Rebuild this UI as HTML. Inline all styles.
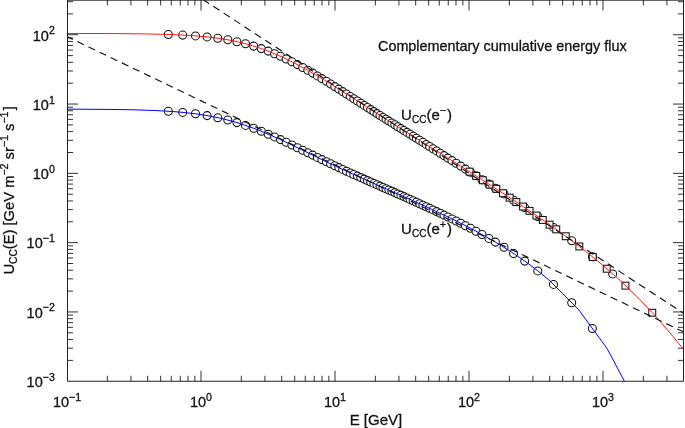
<!DOCTYPE html>
<html><head><meta charset="utf-8"><title>Complementary cumulative energy flux</title>
<style>html,body{margin:0;padding:0;background:#fff;overflow:hidden}body{width:685px;height:428px;position:relative}</style></head>
<body>
<svg width="685" height="428" viewBox="0 0 685 428" style="display:block;position:absolute;left:0;top:0">
<rect width="685" height="428" fill="#fff"/>
<defs><clipPath id="ax"><rect x="67.0" y="0" width="616.5" height="381.2"/></clipPath></defs>
<path d="M107.34 381.25v-5.5M107.34 0v5.5M130.93 381.25v-5.5M130.93 0v5.5M147.68 381.25v-5.5M147.68 0v5.5M160.66 381.25v-5.5M160.66 0v5.5M171.27 381.25v-5.5M171.27 0v5.5M180.24 381.25v-5.5M180.24 0v5.5M188.01 381.25v-5.5M188.01 0v5.5M194.87 381.25v-5.5M194.87 0v5.5M201.00 381.25v-10.5M201.00 0v10.5M241.34 381.25v-5.5M241.34 0v5.5M264.93 381.25v-5.5M264.93 0v5.5M281.68 381.25v-5.5M281.68 0v5.5M294.66 381.25v-5.5M294.66 0v5.5M305.27 381.25v-5.5M305.27 0v5.5M314.24 381.25v-5.5M314.24 0v5.5M322.01 381.25v-5.5M322.01 0v5.5M328.87 381.25v-5.5M328.87 0v5.5M335.00 381.25v-10.5M335.00 0v10.5M375.34 381.25v-5.5M375.34 0v5.5M398.93 381.25v-5.5M398.93 0v5.5M415.68 381.25v-5.5M415.68 0v5.5M428.66 381.25v-5.5M428.66 0v5.5M439.27 381.25v-5.5M439.27 0v5.5M448.24 381.25v-5.5M448.24 0v5.5M456.01 381.25v-5.5M456.01 0v5.5M462.87 381.25v-5.5M462.87 0v5.5M469.00 381.25v-10.5M469.00 0v10.5M509.34 381.25v-5.5M509.34 0v5.5M532.93 381.25v-5.5M532.93 0v5.5M549.68 381.25v-5.5M549.68 0v5.5M562.66 381.25v-5.5M562.66 0v5.5M573.27 381.25v-5.5M573.27 0v5.5M582.24 381.25v-5.5M582.24 0v5.5M590.01 381.25v-5.5M590.01 0v5.5M596.87 381.25v-5.5M596.87 0v5.5M603.00 381.25v-10.5M603.00 0v10.5M643.34 381.25v-5.5M643.34 0v5.5M666.93 381.25v-5.5M666.93 0v5.5M67.50 360.39h5.5M683.50 360.39h-5.5M67.50 348.19h5.5M683.50 348.19h-5.5M67.50 339.53h5.5M683.50 339.53h-5.5M67.50 332.81h5.5M683.50 332.81h-5.5M67.50 327.32h5.5M683.50 327.32h-5.5M67.50 322.68h5.5M683.50 322.68h-5.5M67.50 318.67h5.5M683.50 318.67h-5.5M67.50 315.12h5.5M683.50 315.12h-5.5M67.50 311.95h10.5M683.50 311.95h-10.5M67.50 291.09h5.5M683.50 291.09h-5.5M67.50 278.89h5.5M683.50 278.89h-5.5M67.50 270.23h5.5M683.50 270.23h-5.5M67.50 263.51h5.5M683.50 263.51h-5.5M67.50 258.02h5.5M683.50 258.02h-5.5M67.50 253.38h5.5M683.50 253.38h-5.5M67.50 249.37h5.5M683.50 249.37h-5.5M67.50 245.82h5.5M683.50 245.82h-5.5M67.50 242.65h10.5M683.50 242.65h-10.5M67.50 221.79h5.5M683.50 221.79h-5.5M67.50 209.59h5.5M683.50 209.59h-5.5M67.50 200.93h5.5M683.50 200.93h-5.5M67.50 194.21h5.5M683.50 194.21h-5.5M67.50 188.72h5.5M683.50 188.72h-5.5M67.50 184.08h5.5M683.50 184.08h-5.5M67.50 180.07h5.5M683.50 180.07h-5.5M67.50 176.52h5.5M683.50 176.52h-5.5M67.50 173.35h10.5M683.50 173.35h-10.5M67.50 152.49h5.5M683.50 152.49h-5.5M67.50 140.29h5.5M683.50 140.29h-5.5M67.50 131.63h5.5M683.50 131.63h-5.5M67.50 124.91h5.5M683.50 124.91h-5.5M67.50 119.42h5.5M683.50 119.42h-5.5M67.50 114.78h5.5M683.50 114.78h-5.5M67.50 110.77h5.5M683.50 110.77h-5.5M67.50 107.22h5.5M683.50 107.22h-5.5M67.50 104.05h10.5M683.50 104.05h-10.5M67.50 83.19h5.5M683.50 83.19h-5.5M67.50 70.99h5.5M683.50 70.99h-5.5M67.50 62.33h5.5M683.50 62.33h-5.5M67.50 55.61h5.5M683.50 55.61h-5.5M67.50 50.12h5.5M683.50 50.12h-5.5M67.50 45.48h5.5M683.50 45.48h-5.5M67.50 41.47h5.5M683.50 41.47h-5.5M67.50 37.92h5.5M683.50 37.92h-5.5M67.50 34.75h10.5M683.50 34.75h-10.5M67.50 13.89h5.5M683.50 13.89h-5.5M67.50 1.69h5.5M683.50 1.69h-5.5" stroke="#333" stroke-width="1" fill="none"/>
<g clip-path="url(#ax)" fill="none">
<g stroke="#111" stroke-width="1.05" fill="#fff">
<circle cx="168.3" cy="111.3" r="4.0"/>
<circle cx="182.7" cy="112.4" r="4.0"/>
<circle cx="195.5" cy="113.8" r="4.0"/>
<circle cx="207.1" cy="115.6" r="4.0"/>
<circle cx="217.8" cy="117.7" r="4.0"/>
<circle cx="227.8" cy="120.0" r="4.0"/>
<circle cx="236.9" cy="122.6" r="4.0"/>
<circle cx="245.5" cy="125.4" r="4.0"/>
<circle cx="253.7" cy="128.3" r="4.0"/>
<circle cx="261.3" cy="131.3" r="4.0"/>
<circle cx="268.2" cy="134.2" r="4.0"/>
<circle cx="274.6" cy="136.9" r="4.0"/>
<circle cx="280.5" cy="139.6" r="4.0"/>
<circle cx="286.2" cy="142.3" r="4.0"/>
<circle cx="291.9" cy="145.0" r="4.0"/>
<circle cx="297.4" cy="147.7" r="4.0"/>
<circle cx="302.7" cy="150.2" r="4.0"/>
<circle cx="307.8" cy="152.7" r="4.0"/>
<circle cx="312.7" cy="155.1" r="4.0"/>
<circle cx="317.4" cy="157.4" r="4.0"/>
<circle cx="321.9" cy="159.6" r="4.0"/>
<circle cx="326.4" cy="161.7" r="4.0"/>
<circle cx="330.6" cy="163.8" r="4.0"/>
<circle cx="334.8" cy="165.7" r="4.0"/>
<circle cx="338.8" cy="167.6" r="4.0"/>
<circle cx="342.7" cy="169.4" r="4.0"/>
<circle cx="346.5" cy="171.2" r="4.0"/>
<circle cx="350.2" cy="172.9" r="4.0"/>
<circle cx="353.8" cy="174.5" r="4.0"/>
<circle cx="357.4" cy="176.1" r="4.0"/>
<circle cx="360.8" cy="177.6" r="4.0"/>
<circle cx="364.2" cy="179.1" r="4.0"/>
<circle cx="367.5" cy="180.6" r="4.0"/>
<circle cx="370.7" cy="182.0" r="4.0"/>
<circle cx="373.9" cy="183.4" r="4.0"/>
<circle cx="377.0" cy="184.8" r="4.0"/>
<circle cx="380.0" cy="186.1" r="4.0"/>
<circle cx="383.0" cy="187.5" r="4.0"/>
<circle cx="386.0" cy="188.7" r="4.0"/>
<circle cx="388.9" cy="190.0" r="4.0"/>
<circle cx="391.9" cy="191.3" r="4.0"/>
<circle cx="394.8" cy="192.6" r="4.0"/>
<circle cx="397.8" cy="194.0" r="4.0"/>
<circle cx="400.9" cy="195.3" r="4.0"/>
<circle cx="403.9" cy="196.6" r="4.0"/>
<circle cx="407.0" cy="198.0" r="4.0"/>
<circle cx="410.1" cy="199.4" r="4.0"/>
<circle cx="413.2" cy="200.8" r="4.0"/>
<circle cx="416.4" cy="202.2" r="4.0"/>
<circle cx="419.6" cy="203.7" r="4.0"/>
<circle cx="422.9" cy="205.2" r="4.0"/>
<circle cx="426.2" cy="206.7" r="4.0"/>
<circle cx="429.6" cy="208.3" r="4.0"/>
<circle cx="433.1" cy="209.9" r="4.0"/>
<circle cx="436.6" cy="211.6" r="4.0"/>
<circle cx="440.3" cy="213.3" r="4.0"/>
<circle cx="444.0" cy="215.1" r="4.0"/>
<circle cx="447.9" cy="217.0" r="4.0"/>
<circle cx="452.0" cy="218.9" r="4.0"/>
<circle cx="456.2" cy="221.0" r="4.0"/>
<circle cx="460.7" cy="223.3" r="4.0"/>
<circle cx="465.4" cy="225.7" r="4.0"/>
<circle cx="470.5" cy="228.3" r="4.0"/>
<circle cx="476.0" cy="231.2" r="4.0"/>
<circle cx="482.0" cy="234.5" r="4.0"/>
<circle cx="488.9" cy="238.4" r="4.0"/>
<circle cx="495.4" cy="242.1" r="4.0"/>
<circle cx="504.0" cy="247.3" r="4.0"/>
<circle cx="513.6" cy="253.5" r="4.0"/>
<circle cx="524.7" cy="261.1" r="4.0"/>
<circle cx="537.8" cy="270.9" r="4.0"/>
<circle cx="553.5" cy="284.4" r="4.0"/>
<circle cx="571.7" cy="302.8" r="4.0"/>
<circle cx="592.4" cy="328.5" r="4.0"/>
<circle cx="168.3" cy="34.5" r="4.0"/>
<circle cx="182.7" cy="35.1" r="4.0"/>
<circle cx="195.5" cy="35.9" r="4.0"/>
<circle cx="207.1" cy="36.9" r="4.0"/>
<circle cx="217.8" cy="38.2" r="4.0"/>
<circle cx="227.8" cy="39.8" r="4.0"/>
<circle cx="236.9" cy="41.7" r="4.0"/>
<circle cx="245.5" cy="43.7" r="4.0"/>
<circle cx="253.7" cy="46.1" r="4.0"/>
<circle cx="261.3" cy="48.6" r="4.0"/>
<circle cx="268.2" cy="51.1" r="4.0"/>
<circle cx="274.6" cy="53.7" r="4.0"/>
<circle cx="280.5" cy="56.3" r="4.0"/>
<circle cx="286.2" cy="59.0" r="4.0"/>
<circle cx="291.9" cy="61.7" r="4.0"/>
<circle cx="297.4" cy="64.6" r="4.0"/>
<circle cx="302.7" cy="67.5" r="4.0"/>
<circle cx="307.8" cy="70.3" r="4.0"/>
<circle cx="312.7" cy="73.1" r="4.0"/>
<circle cx="317.4" cy="75.9" r="4.0"/>
<circle cx="321.9" cy="78.6" r="4.0"/>
<circle cx="326.4" cy="81.3" r="4.0"/>
<circle cx="330.6" cy="84.0" r="4.0"/>
<circle cx="334.8" cy="86.6" r="4.0"/>
<circle cx="338.8" cy="89.1" r="4.0"/>
<circle cx="342.7" cy="91.6" r="4.0"/>
<circle cx="346.5" cy="94.0" r="4.0"/>
<circle cx="350.2" cy="96.4" r="4.0"/>
<circle cx="353.8" cy="98.7" r="4.0"/>
<circle cx="357.4" cy="101.0" r="4.0"/>
<circle cx="360.8" cy="103.2" r="4.0"/>
<circle cx="364.2" cy="105.4" r="4.0"/>
<circle cx="367.5" cy="107.5" r="4.0"/>
<circle cx="370.7" cy="109.6" r="4.0"/>
<circle cx="373.9" cy="111.6" r="4.0"/>
<circle cx="377.0" cy="113.6" r="4.0"/>
<circle cx="380.0" cy="115.5" r="4.0"/>
<circle cx="383.0" cy="117.4" r="4.0"/>
<circle cx="386.0" cy="119.2" r="4.0"/>
<circle cx="388.9" cy="121.1" r="4.0"/>
<circle cx="391.9" cy="122.9" r="4.0"/>
<circle cx="394.8" cy="124.8" r="4.0"/>
<circle cx="397.8" cy="126.7" r="4.0"/>
<circle cx="400.9" cy="128.6" r="4.0"/>
<circle cx="403.9" cy="130.5" r="4.0"/>
<circle cx="407.0" cy="132.4" r="4.0"/>
<circle cx="410.1" cy="134.3" r="4.0"/>
<circle cx="413.2" cy="136.3" r="4.0"/>
<circle cx="416.4" cy="138.3" r="4.0"/>
<circle cx="419.6" cy="140.3" r="4.0"/>
<circle cx="422.9" cy="142.3" r="4.0"/>
<circle cx="426.2" cy="144.4" r="4.0"/>
<circle cx="429.6" cy="146.5" r="4.0"/>
<circle cx="433.1" cy="148.7" r="4.0"/>
<circle cx="436.6" cy="150.9" r="4.0"/>
<circle cx="440.3" cy="153.2" r="4.0"/>
<circle cx="444.0" cy="155.6" r="4.0"/>
<circle cx="447.9" cy="158.1" r="4.0"/>
<circle cx="452.0" cy="160.6" r="4.0"/>
<circle cx="456.2" cy="163.3" r="4.0"/>
<circle cx="460.7" cy="166.1" r="4.0"/>
<circle cx="465.4" cy="169.1" r="4.0"/>
<circle cx="470.5" cy="172.3" r="4.0"/>
<circle cx="476.0" cy="175.8" r="4.0"/>
<circle cx="482.0" cy="179.7" r="4.0"/>
<circle cx="488.9" cy="184.1" r="4.0"/>
<circle cx="495.4" cy="188.3" r="4.0"/>
<circle cx="504.0" cy="193.9" r="4.0"/>
<circle cx="513.6" cy="200.2" r="4.0"/>
<circle cx="524.7" cy="207.6" r="4.0"/>
<circle cx="537.8" cy="216.5" r="4.0"/>
<circle cx="553.5" cy="227.4" r="4.0"/>
<circle cx="571.7" cy="240.7" r="4.0"/>
<circle cx="592.4" cy="256.7" r="4.0"/>
<circle cx="612.7" cy="273.9" r="4.0"/>
<rect x="466.1" y="168.2" width="6.9" height="6.9"/>
<rect x="472.8" y="172.5" width="6.9" height="6.9"/>
<rect x="479.4" y="176.8" width="6.9" height="6.9"/>
<rect x="486.2" y="181.1" width="6.9" height="6.9"/>
<rect x="492.9" y="185.4" width="6.9" height="6.9"/>
<rect x="499.6" y="189.8" width="6.9" height="6.9"/>
<rect x="506.2" y="194.2" width="6.9" height="6.9"/>
<rect x="512.9" y="198.6" width="6.9" height="6.9"/>
<rect x="519.6" y="203.1" width="6.9" height="6.9"/>
<rect x="526.1" y="207.4" width="6.9" height="6.9"/>
<rect x="533.0" y="212.1" width="6.9" height="6.9"/>
<rect x="539.3" y="216.5" width="6.9" height="6.9"/>
<rect x="546.1" y="221.2" width="6.9" height="6.9"/>
<rect x="552.8" y="225.9" width="6.9" height="6.9"/>
<rect x="562.3" y="232.8" width="6.9" height="6.9"/>
<rect x="575.9" y="243.0" width="6.9" height="6.9"/>
<rect x="589.3" y="253.6" width="6.9" height="6.9"/>
<rect x="603.3" y="265.3" width="6.9" height="6.9"/>
<rect x="622.0" y="282.2" width="6.9" height="6.9"/>
<rect x="648.8" y="309.3" width="6.9" height="6.9"/>
</g>
<polyline points="67.0,33.5 70.0,33.5 73.0,33.5 76.0,33.5 79.0,33.5 82.0,33.5 85.0,33.5 88.0,33.5 91.0,33.5 94.0,33.5 97.0,33.5 100.0,33.5 103.0,33.5 106.0,33.6 109.0,33.6 112.0,33.6 115.0,33.6 118.0,33.6 121.0,33.7 124.0,33.7 127.0,33.7 130.0,33.7 133.0,33.8 136.0,33.8 139.0,33.8 142.0,33.9 145.0,33.9 148.0,34.0 151.0,34.0 154.0,34.1 157.0,34.2 160.0,34.2 163.0,34.3 166.0,34.4 169.0,34.5 172.0,34.6 175.0,34.7 178.0,34.9 181.0,35.0 184.0,35.2 187.0,35.3 190.0,35.5 193.0,35.7 196.0,35.9 199.0,36.2 202.0,36.4 205.0,36.7 208.0,37.0 211.0,37.4 214.0,37.7 217.0,38.1 220.0,38.6 223.0,39.0 226.0,39.5 229.0,40.0 232.0,40.6 235.0,41.2 238.0,41.9 241.0,42.6 244.0,43.3 247.0,44.1 250.0,45.0 253.0,45.9 256.0,46.8 259.0,47.8 262.0,48.8 265.0,49.9 268.0,51.0 271.0,52.2 274.0,53.5 277.0,54.7 280.0,56.1 283.0,57.4 286.0,58.9 289.0,60.3 292.0,61.8 295.0,63.4 298.0,64.9 301.0,66.6 304.0,68.2 307.0,69.9 310.0,71.6 313.0,73.3 316.0,75.1 319.0,76.9 322.0,78.7 325.0,80.5 328.0,82.3 331.0,84.2 334.0,86.1 337.0,88.0 340.0,89.9 343.0,91.8 346.0,93.7 349.0,95.6 352.0,97.5 355.0,99.5 358.0,101.4 361.0,103.3 364.0,105.2 367.0,107.2 370.0,109.1 373.0,111.0 376.0,112.9 379.0,114.8 382.0,116.7 385.0,118.6 388.0,120.5 391.0,122.4 394.0,124.3 397.0,126.2 400.0,128.0 403.0,129.9 406.0,131.8 409.0,133.7 412.0,135.5 415.0,137.4 418.0,139.3 421.0,141.2 424.0,143.0 427.0,144.9 430.0,146.8 433.0,148.7 436.0,150.6 439.0,152.4 442.0,154.3 445.0,156.2 448.0,158.1 451.0,160.0 454.0,161.9 457.0,163.8 460.0,165.7 463.0,167.6 466.0,169.5 469.0,171.4 472.0,173.3 475.0,175.2 478.0,177.1 481.0,179.0 484.0,181.0 487.0,182.9 490.0,184.8 493.0,186.7 496.0,188.7 499.0,190.6 502.0,192.6 505.0,194.5 508.0,196.5 511.0,198.5 514.0,200.5 517.0,202.4 520.0,204.4 523.0,206.4 526.0,208.4 529.0,210.5 532.0,212.5 535.0,214.5 538.0,216.6 541.0,218.7 544.0,220.7 547.0,222.8 550.0,224.9 553.0,227.1 556.0,229.2 559.0,231.3 562.0,233.5 565.0,235.7 568.0,237.9 571.0,240.1 574.0,242.4 577.0,244.7 580.0,247.0 583.0,249.3 586.0,251.6 589.0,254.0 592.0,256.4 595.0,258.9 598.0,261.3 601.0,263.8 604.0,266.3 607.0,268.9 610.0,271.5 613.0,274.2 616.0,276.8 619.0,279.6 622.0,282.3 625.0,285.1 628.0,288.0 631.0,290.9 634.0,293.8 637.0,296.8 640.0,299.8 643.0,302.9 646.0,306.0 649.0,309.2 652.0,312.4 655.0,315.7 658.0,319.0 661.0,322.4 664.0,325.9 667.0,329.3 670.0,332.9 673.0,336.4 676.0,340.1 679.0,343.8 682.0,347.5 683.9,349.9" stroke="#f00" stroke-width="1" stroke-opacity="0.9"/>
<polyline points="67.0,109.2 70.0,109.2 73.0,109.2 76.0,109.2 79.0,109.2 82.0,109.2 85.0,109.2 88.0,109.3 91.0,109.3 94.0,109.3 97.0,109.3 100.0,109.3 103.0,109.4 106.0,109.4 109.0,109.4 112.0,109.5 115.0,109.5 118.0,109.6 121.0,109.6 124.0,109.6 127.0,109.7 130.0,109.8 133.0,109.8 136.0,109.9 139.0,110.0 142.0,110.1 145.0,110.2 148.0,110.3 151.0,110.4 154.0,110.5 157.0,110.6 160.0,110.8 163.0,110.9 166.0,111.1 169.0,111.3 172.0,111.5 175.0,111.7 178.0,112.0 181.0,112.2 184.0,112.5 187.0,112.8 190.0,113.2 193.0,113.5 196.0,113.9 199.0,114.3 202.0,114.8 205.0,115.2 208.0,115.8 211.0,116.3 214.0,116.9 217.0,117.5 220.0,118.2 223.0,118.8 226.0,119.6 229.0,120.4 232.0,121.2 235.0,122.0 238.0,122.9 241.0,123.9 244.0,124.9 247.0,125.9 250.0,126.9 253.0,128.0 256.0,129.2 259.0,130.3 262.0,131.6 265.0,132.8 268.0,134.1 271.0,135.4 274.0,136.7 277.0,138.0 280.0,139.4 283.0,140.8 286.0,142.2 289.0,143.6 292.0,145.1 295.0,146.5 298.0,148.0 301.0,149.4 304.0,150.9 307.0,152.3 310.0,153.8 313.0,155.3 316.0,156.7 319.0,158.2 322.0,159.6 325.0,161.1 328.0,162.5 331.0,163.9 334.0,165.4 337.0,166.8 340.0,168.2 343.0,169.6 346.0,170.9 349.0,172.3 352.0,173.7 355.0,175.0 358.0,176.4 361.0,177.7 364.0,179.1 367.0,180.4 370.0,181.7 373.0,183.0 376.0,184.4 379.0,185.7 382.0,187.0 385.0,188.3 388.0,189.6 391.0,191.0 394.0,192.3 397.0,193.6 400.0,194.9 403.0,196.3 406.0,197.6 409.0,198.9 412.0,200.3 415.0,201.6 418.0,203.0 421.0,204.3 424.0,205.7 427.0,207.1 430.0,208.5 433.0,209.9 436.0,211.3 439.0,212.7 442.0,214.1 445.0,215.5 448.0,217.0 451.0,218.5 454.0,219.9 457.0,221.4 460.0,222.9 463.0,224.4 466.0,226.0 469.0,227.5 472.0,229.1 475.0,230.7 478.0,232.3 481.0,234.0 484.0,235.6 487.0,237.3 490.0,239.0 493.0,240.7 496.0,242.5 499.0,244.3 502.0,246.1 505.0,248.0 508.0,249.8 511.0,251.8 514.0,253.7 517.0,255.7 520.0,257.8 523.0,259.9 526.0,262.0 529.0,264.2 532.0,266.4 535.0,268.7 538.0,271.0 541.0,273.4 544.0,275.9 547.0,278.4 550.0,281.0 550.6,281.5 578.9,310 607.2,348.7 635.5,402.2" stroke="#00f" stroke-width="1"/>
<path d="M67.0 36.6L684.0 332.1" stroke="#111" stroke-width="1.15" stroke-dasharray="7.25 5.07" stroke-dashoffset="0.8"/>
<path d="M203.6 0.0L684.0 313.5" stroke="#111" stroke-width="1.15" stroke-dasharray="7.3 5.1" stroke-dashoffset="0.8"/>
</g>
<path d="M67.5 0V381.25H683.5V0" stroke="#222" stroke-width="1" fill="none"/>
<path d="M67.0 0.2H683.5" stroke="#222" stroke-width="1" fill="none"/>
<g font-family="Liberation Sans, Arial, Helvetica, sans-serif" font-size="14.5" fill="#111" stroke="#111" stroke-width="0.3">
<text transform="translate(67.0,406.9) scale(1,1.04)" text-anchor="middle">10<tspan font-size="10.6" dy="-6">−1</tspan></text>
<text transform="translate(201.0,406.9) scale(1,1.04)" text-anchor="middle">10<tspan font-size="10.6" dy="-6">0</tspan></text>
<text transform="translate(335.0,406.9) scale(1,1.04)" text-anchor="middle">10<tspan font-size="10.6" dy="-6">1</tspan></text>
<text transform="translate(469.0,406.9) scale(1,1.04)" text-anchor="middle">10<tspan font-size="10.6" dy="-6">2</tspan></text>
<text transform="translate(603.0,406.9) scale(1,1.04)" text-anchor="middle">10<tspan font-size="10.6" dy="-6">3</tspan></text>
<text transform="translate(54.8,386.9) scale(1,1.04)" text-anchor="end">10<tspan font-size="10.6" dy="-6">−3</tspan></text>
<text transform="translate(54.8,317.6) scale(1,1.04)" text-anchor="end">10<tspan font-size="10.6" dy="-6">−2</tspan></text>
<text transform="translate(54.8,248.3) scale(1,1.04)" text-anchor="end">10<tspan font-size="10.6" dy="-6">−1</tspan></text>
<text transform="translate(54.8,179.0) scale(1,1.04)" text-anchor="end">10<tspan font-size="10.6" dy="-6">0</tspan></text>
<text transform="translate(54.8,109.8) scale(1,1.04)" text-anchor="end">10<tspan font-size="10.6" dy="-6">1</tspan></text>
<text transform="translate(54.8,40.5) scale(1,1.04)" text-anchor="end">10<tspan font-size="10.6" dy="-6">2</tspan></text>
<text transform="translate(349.7,425.4) scale(1,1)" font-size="15">E [GeV]</text>
<text transform="translate(14.3,274.6) rotate(-90) scale(1,1.02)" font-size="14.75">U<tspan font-size="10.2" dy="3">CC</tspan><tspan dy="-3">(E) [GeV m</tspan><tspan font-size="10.6" dy="-6">−2</tspan><tspan dy="6"> sr</tspan><tspan font-size="10.6" dy="-6">−1</tspan><tspan dy="6"> s</tspan><tspan font-size="10.6" dy="-6">−1</tspan><tspan dy="6" dx="1.2">]</tspan></text>
<text transform="translate(378.0,50.9) scale(1,1.08)" font-size="14.4">Complementary cumulative energy flux</text>
<text transform="translate(401.1,119.8) scale(1,1)" font-size="15">U<tspan font-size="10" dy="3">CC</tspan><tspan dy="-3">(e</tspan><tspan font-size="10.8" dy="-6">−</tspan><tspan dy="6" dx="0.9">)</tspan></text>
<text transform="translate(401.1,233.9) scale(1,1)" font-size="15">U<tspan font-size="10" dy="3">CC</tspan><tspan dy="-3">(e</tspan><tspan font-size="10.8" dy="-6">+</tspan><tspan dy="6" dx="0.9">)</tspan></text>
</g>
</svg>
</body></html>
